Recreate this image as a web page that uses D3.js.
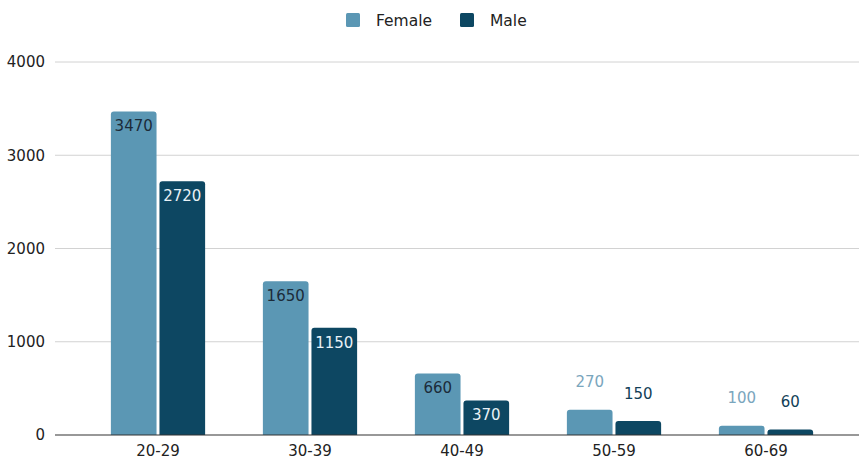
<!DOCTYPE html>
<html>
<head>
<meta charset="utf-8">
<script src="https://cdn.jsdelivr.net/npm/d3@7"></script>
<style>
  body { margin: 0; background: #fff; }
  text { font-family: "DejaVu Sans", Arial, sans-serif; }
</style>
</head>
<body>
<div id="chart"></div>
<script>
//chart data
const ageGroups = ['20-29', '30-39', '40-49', '50-59', '60-69']
const female = [3470, 1650, 660, 270, 100]
const male = [2720, 1150, 370, 150, 60]
const seriesNames = ['Female', 'Male']
const yTicks = [0, 1000, 2000, 3000, 4000]

const colors = { Female: '#5b97b4', Male: '#0d4762' }
const labelInside = { Female: '#1c2b39', Male: '#e8f1f6' }

//dimensions
const W = 859, H = 465
const margin = {top: 62, right: 17, bottom: 30, left: 82}
const width = W - margin.left - margin.right,
  height = H - margin.top - margin.bottom

const svg = d3.select('#chart')
  .append('svg')
  .attr('width', W)
  .attr('height', H)

const g = svg.append('g')
  .attr('transform', `translate(${margin.left}, ${margin.top})`)

//scales
const x = d3.scaleBand()
  .domain(ageGroups)
  .range([0, width])
  .paddingInner(0.38)
  .paddingOuter(0.19)

const xSub = d3.scaleBand()
  .domain(seriesNames)
  .range([0, x.bandwidth()])
  .paddingInner(0.06)

const y = d3.scaleLinear()
  .domain([0, 4000])
  .range([height, 0])

//gridlines
g.append('g')
  .selectAll('line')
  .data(yTicks.filter(d => d > 0))
  .join('line')
  .attr('x1', -27)
  .attr('x2', width + margin.right)
  .attr('y1', d => y(d))
  .attr('y2', d => y(d))
  .attr('stroke', '#d2d2d2')
  .attr('stroke-width', 1)

//y axis labels
g.append('g')
  .call(d3.axisLeft(y).tickValues(yTicks).tickFormat(d3.format('d')).tickSize(0).tickPadding(37))
  .call(a => a.select('.domain').remove())
  .selectAll('text')
  .style('font-size', '15px')
  .style('fill', '#222')
  .style('font-family', '"DejaVu Sans", Arial, sans-serif')

//bars
const rows = ageGroups.map((a, i) => ({ group: a, values: [
  { key: 'Female', value: female[i] },
  { key: 'Male', value: male[i] }
]}))

const groups = g.selectAll('.grp')
  .data(rows)
  .join('g')
  .attr('class', 'grp')
  .attr('transform', d => `translate(${x(d.group)}, 0)`)

groups.selectAll('path')
  .data(d => d.values)
  .join('path')
  .attr('fill', d => colors[d.key])
  .attr('d', d => {
    const x0 = xSub(d.key), w = xSub.bandwidth()
    const y0 = y(d.value), h = height - y0
    const r = Math.min(3, h)
    return `M${x0},${height}V${y0 + r}Q${x0},${y0} ${x0 + r},${y0}H${x0 + w - r}Q${x0 + w},${y0} ${x0 + w},${y0 + r}V${height}Z`
  })

//value labels
groups.selectAll('text')
  .data(d => d.values)
  .join('text')
  .attr('x', d => xSub(d.key) + xSub.bandwidth() / 2)
  .attr('y', d => {
    const top = y(d.value)
    if (d.value >= 300) return top + 20
    return top - (d.key === 'Female' ? 23 : 22)
  })
  .attr('text-anchor', 'middle')
  .style('font-size', '15px')
  .style('fill', d => d.value >= 300 ? labelInside[d.key] : (d.key === 'Female' ? '#7aa6bd' : '#123f57'))
  .text(d => d.value)

//baseline
g.append('line')
  .attr('x1', -27)
  .attr('x2', width + margin.right)
  .attr('y1', height)
  .attr('y2', height)
  .attr('stroke', '#333')
  .attr('stroke-width', 1.2)

//x axis labels
g.append('g')
  .attr('transform', `translate(0, ${height})`)
  .call(d3.axisBottom(x).tickSize(0).tickPadding(10))
  .call(a => a.select('.domain').remove())
  .selectAll('text')
  .style('font-size', '15px')
  .style('fill', '#222')
  .style('font-family', '"DejaVu Sans", Arial, sans-serif')

//legend
const legendX = [346, 460]
const legend = svg.append('g')
  .selectAll('g')
  .data(seriesNames)
  .join('g')
  .attr('transform', (d, i) => `translate(${legendX[i]}, 13)`)

legend.append('rect')
  .attr('width', 14)
  .attr('height', 14)
  .attr('rx', 1.5)
  .attr('fill', d => colors[d])

legend.append('text')
  .attr('x', 30)
  .attr('y', 13)
  .style('font-size', '15.5px')
  .style('fill', '#222')
  .text(d => d)
</script>
</body>
</html>
